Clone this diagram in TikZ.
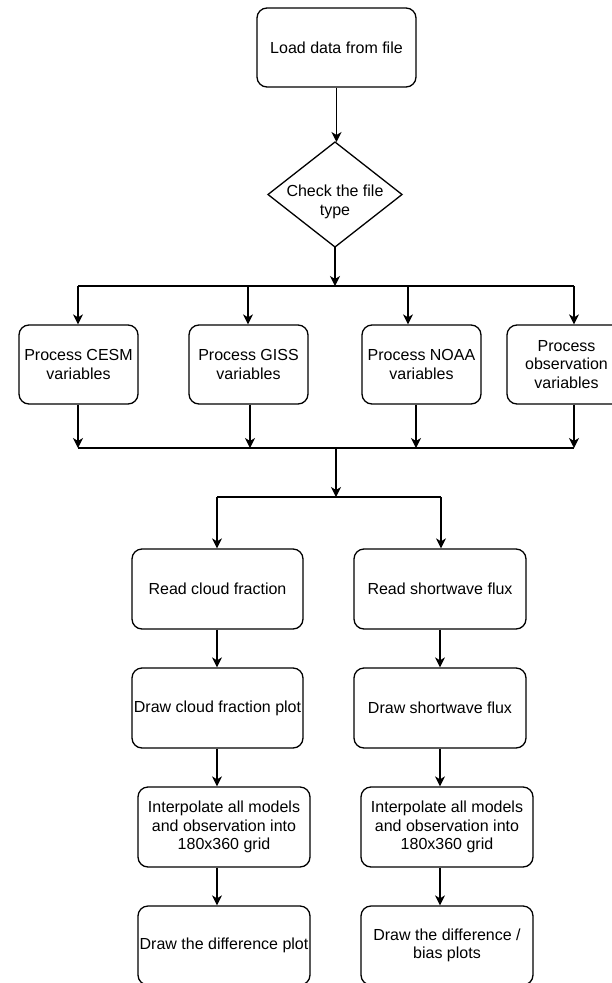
\documentclass[tikz,border=0pt]{standalone}
\usepackage{fontspec}
\setmainfont{Liberation Sans}
\usetikzlibrary{arrows.meta}
\begin{document}
\begin{tikzpicture}[x=1pt,y=-1pt,
  box/.style={draw, line width=1.3pt, rounded corners=10pt, inner sep=0pt, align=center,
    font=\fontsize{16}{18.5}\selectfont},
  lbl/.style={inner sep=0pt, align=center, font=\fontsize{16}{18.5}\selectfont},
  ln/.style={line width=1.3pt},
  arr/.style={line width=1.3pt, -{Stealth[length=10pt,width=10pt,inset=3pt]}}]
\useasboundingbox (0,0) rectangle (612,983);
\clip (0,0) rectangle (612,983);

% top
\node[box, minimum width=159pt, minimum height=79pt] (load) at (336.5,47.5) {Load data from file};
\coordinate (chkN) at (335,142);
\coordinate (chkE) at (402,194.5);
\coordinate (chkS) at (335,247);
\coordinate (chkW) at (268,194.5);
\draw[ln] (chkN) -- (chkE) -- (chkS) -- (chkW) -- cycle;
\node[lbl] (check) at (335,202) {Check the file\\type};
\draw[arr] (load.south) -- (load.south |- chkN);

% fork to four processors
\coordinate (fc) at (335,286);
\coordinate (t1) at (78,286);
\coordinate (t2) at (248,286);
\coordinate (t3) at (408,286);
\coordinate (t4) at (574,286);
\draw[arr] (chkS) -- (fc);
\draw[ln] (t1) -- (t4);

\node[box, minimum width=119pt, minimum height=79pt] (cesm) at (78.5,364.5) {Process CESM\\variables};
\node[box, minimum width=119pt, minimum height=79pt] (giss) at (248.5,364.5) {Process GISS\\variables};
\node[box, minimum width=119pt, minimum height=79pt] (noaa) at (421.5,364.5) {Process NOAA\\variables};
\node[box, minimum width=119pt, minimum height=79pt] (obs) at (566.5,364.5) {Process\\observation\\variables};

\draw[arr] (t1) -- (t1 |- cesm.north);
\draw[arr] (t2) -- (t2 |- giss.north);
\draw[arr] (t3) -- (t3 |- noaa.north);
\draw[arr] (t4) -- (t4 |- obs.north);

% merge
\coordinate (m1) at (78,448);
\coordinate (m2) at (250,448);
\coordinate (m3) at (416,448);
\coordinate (m4) at (574,448);
\coordinate (mc) at (336,448);
\draw[arr] (m1 |- cesm.south) -- (m1);
\draw[arr] (m2 |- giss.south) -- (m2);
\draw[arr] (m3 |- noaa.south) -- (m3);
\draw[arr] (m4 |- obs.south) -- (m4);
\draw[ln] (m1) -- (m4);

% split into two columns
\coordinate (sc) at (336,497);
\coordinate (s1) at (217,497);
\coordinate (s2) at (441,497);
\draw[arr] (mc) -- (sc);
\draw[ln] (s1) -- (s2);

\node[box, minimum width=171pt, minimum height=80pt] (readcf) at (217.5,589) {Read cloud fraction};
\node[box, minimum width=171pt, minimum height=80pt] (drawcf) at (217.5,708) {Draw cloud fraction plot};
\node[box, minimum width=172pt, minimum height=80pt] (interp1) at (224,827) {Interpolate all models\\and observation into\\180x360 grid};
\node[box, minimum width=172pt, minimum height=79pt] (diff1) at (224,945.5) {Draw the difference plot};

\node[box, minimum width=172pt, minimum height=80pt] (readsw) at (440,589) {Read shortwave flux};
\node[box, minimum width=172pt, minimum height=80pt] (drawsw) at (440,708) {Draw shortwave flux};
\node[box, minimum width=172pt, minimum height=80pt] (interp2) at (447,827) {Interpolate all models\\and observation into\\180x360 grid};
\node[box, minimum width=172pt, minimum height=79pt] (diff2) at (447,945.5) {Draw the difference /\\bias plots};

\draw[arr] (s1) -- (s1 |- readcf.north);
\draw[arr] (s2) -- (s2 |- readsw.north);

\draw[arr] (s1 |- readcf.south) -- (s1 |- drawcf.north);
\draw[arr] (s1 |- drawcf.south) -- (s1 |- interp1.north);
\draw[arr] (s1 |- interp1.south) -- (s1 |- diff1.north);

\draw[arr] (readsw.south) -- (readsw.south |- drawsw.north);
\draw[arr] (drawsw.south) -- (drawsw.south |- interp2.north);
\draw[arr] (drawsw.south |- interp2.south) -- (drawsw.south |- diff2.north);
\end{tikzpicture}
\end{document}
